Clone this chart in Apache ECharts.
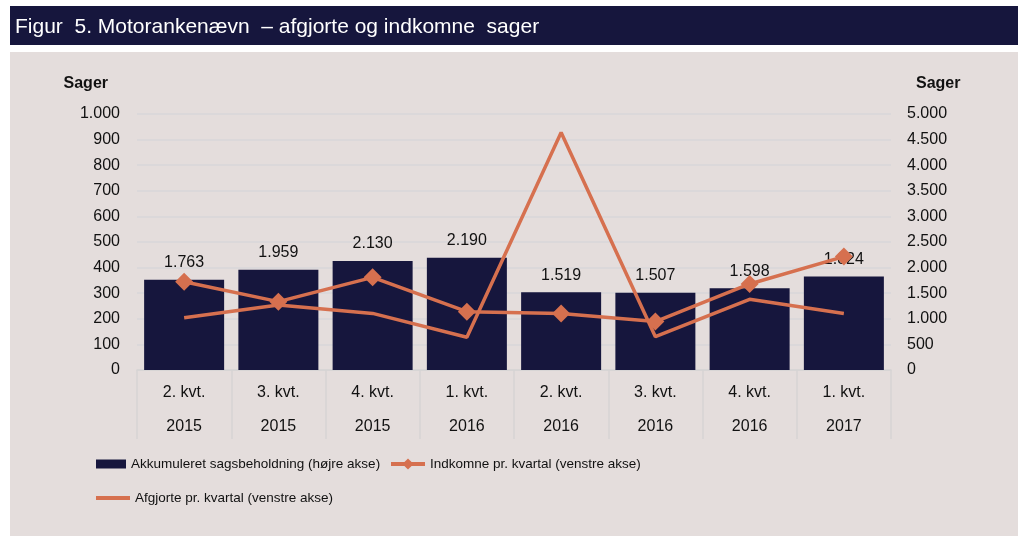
<!DOCTYPE html>
<html>
<head>
<meta charset="utf-8">
<script src="https://cdn.jsdelivr.net/npm/echarts@6/dist/echarts.min.js"></script>
<style>
  html, body { margin: 0; padding: 0; background: #fff; }
  #chart { width: 1018px; height: 536px; }
</style>
</head>
<body>
<div id="chart"></div>
<script>
var quarters = ['2. kvt.', '3. kvt.', '4. kvt.', '1. kvt.', '2. kvt.', '3. kvt.', '4. kvt.', '1. kvt.'];
var years = ['2015', '2015', '2015', '2016', '2016', '2016', '2016', '2017'];
var beholdning = [1763, 1959, 2130, 2190, 1519, 1507, 1598, 1824];
var indkomne = [345, 267, 362, 228, 221, 189, 336, 443];
var afgjorte = [204, 254, 221, 128, 928, 130, 276, 221];

var navy = '#16163d';
var orange = '#d6704f';
var font = "'Liberation Sans', Arial, sans-serif";

function dk(v) {
    return String(v).replace(/\B(?=(\d{3})+(?!\d))/g, '.');
}

var categories = quarters.map(function (q, i) { return q + '\n' + years[i]; });

var legendText = { fontSize: 13.5, color: '#111', fontFamily: font };

var chart = echarts.init(document.getElementById('chart'));
var option = {
    animation: false,
    backgroundColor: '#ffffff',
    textStyle: { fontFamily: font },
    graphic: [
        { type: 'rect', left: 10, top: 6, shape: { width: 1008, height: 39 }, style: { fill: navy }, z: -10 },
        { type: 'rect', left: 10, top: 52, shape: { width: 1008, height: 484 }, style: { fill: '#e4dddc' }, z: -10 }
    ],
    title: {
        text: 'Figur  5. Motorankenævn  – afgjorte og indkomne  sager',
        left: 15,
        top: 17,
        padding: 0,
        textStyle: { color: '#ffffff', fontSize: 21, fontWeight: 'normal', fontFamily: font }
    },
    legend: [
        {
            left: 91, top: 452, itemWidth: 30, itemHeight: 9, itemGap: 4,
            textStyle: legendText,
            data: [{ name: 'Akkumuleret sagsbeholdning (højre akse)', icon: 'rect' }]
        },
        {
            left: 384, top: 452, itemWidth: 34, itemHeight: 14,
            textStyle: legendText,
            lineStyle: { width: 4 },
            data: ['Indkomne pr. kvartal (venstre akse)']
        },
        {
            left: 91, top: 486, itemWidth: 34, itemHeight: 4,
            textStyle: legendText,
            data: [{ name: 'Afgjorte pr. kvartal (venstre akse)', icon: 'rect' }]
        }
    ],
    grid: { left: 137, right: 127, top: 114, bottom: 166 },
    xAxis: {
        type: 'category',
        data: categories,
        axisLine: { show: true, lineStyle: { color: '#d6d3d3', width: 1.5 } },
        axisTick: { show: true, length: 69, lineStyle: { color: '#d6d3d3', width: 1.5 } },
        axisLabel: { color: '#111', fontSize: 16, lineHeight: 34, margin: 6 }
    },
    yAxis: [
        {
            type: 'value', min: 0, max: 1000, interval: 100,
            name: 'Sager', nameLocation: 'end', nameGap: 22,
            nameTextStyle: { fontWeight: 'bold', fontSize: 16, color: '#111', align: 'right', padding: [0, 29, 0, 0] },
            axisLine: { show: false }, axisTick: { show: false },
            axisLabel: { color: '#111', fontSize: 16, margin: 17, formatter: dk },
            splitLine: { lineStyle: { color: '#d8d6da', width: 1.5 } }
        },
        {
            type: 'value', min: 0, max: 5000, interval: 500,
            name: 'Sager', nameLocation: 'end', nameGap: 22,
            nameTextStyle: { fontWeight: 'bold', fontSize: 16, color: '#111', align: 'left', padding: [0, 0, 0, 25] },
            axisLine: { show: false }, axisTick: { show: false },
            axisLabel: { color: '#111', fontSize: 16, margin: 16, formatter: dk },
            splitLine: { show: false }
        }
    ],
    series: [
        {
            name: 'Akkumuleret sagsbeholdning (højre akse)',
            type: 'bar',
            yAxisIndex: 1,
            data: beholdning,
            barWidth: 80,
            itemStyle: { color: navy },
            label: {
                show: true, position: 'top', distance: 9,
                color: '#111', fontSize: 16,
                formatter: function (p) { return dk(p.value); }
            }
        },
        {
            name: 'Indkomne pr. kvartal (venstre akse)',
            type: 'line',
            yAxisIndex: 0,
            data: indkomne,
            symbol: 'diamond',
            symbolSize: 18,
            lineStyle: { color: orange, width: 3.5 },
            itemStyle: { color: orange },
            z: 3
        },
        {
            name: 'Afgjorte pr. kvartal (venstre akse)',
            type: 'line',
            yAxisIndex: 0,
            data: afgjorte,
            symbol: 'none',
            lineStyle: { color: orange, width: 3.5 },
            itemStyle: { color: orange },
            z: 3
        }
    ]
};
chart.setOption(option);
</script>
</body>
</html>
